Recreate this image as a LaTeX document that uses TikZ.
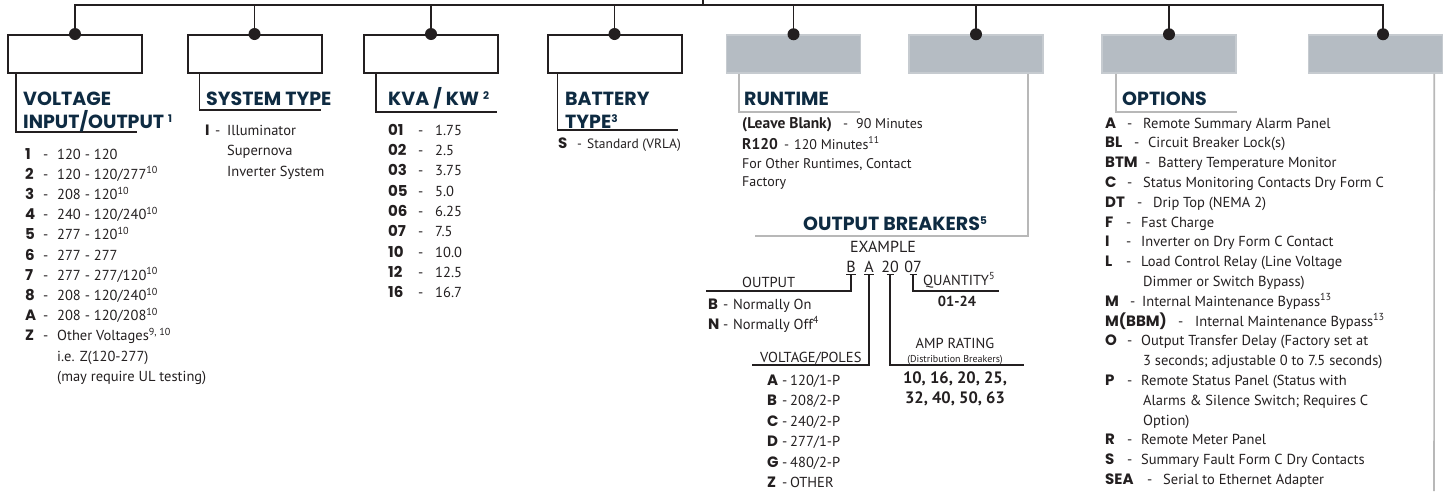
\documentclass[tikz,border=0pt]{standalone}
\usepackage{fontspec}
\setmainfont{PT Sans}
\newfontfamily\poppins{Poppins}
\usepackage{xcolor}

\definecolor{navy}{HTML}{0E2B42}
\definecolor{boxgrey}{HTML}{B5BCC3}
\definecolor{boxedge}{HTML}{C6CBD0}
\definecolor{linegrey}{HTML}{B8B8B8}
\definecolor{ink}{HTML}{231F20}

\newcommand{\headtxt}{\poppins\bfseries\fontsize{19}{22}\selectfont}
\newcommand{\bodytxt}{\fontsize{14.5}{17}\selectfont}
\newcommand{\keytxt}{\poppins\bfseries\fontsize{15}{17}\selectfont}
\newcommand{\optentry}[4]{\makebox[#1][l]{\keytxt #2}\makebox[#3][l]{-}#4}
\newcommand{\headsup}[1]{\raisebox{5.5pt}{\fontsize{10.5}{12}\selectfont #1}}

\begin{document}
\begin{tikzpicture}[x=1pt, y=-1pt,
  codebox/.style={rectangle, draw=ink, line width=2pt, minimum width=134pt, minimum height=38pt, inner sep=0pt},
  greybox/.style={codebox, draw=boxedge, fill=boxgrey, line width=1.5pt},
  bus/.style={draw=ink, line width=1.6pt},
  hook/.style={draw=ink, line width=1.6pt},
  greyhook/.style={draw=linegrey, line width=1.6pt},
  tick/.style={draw=ink, line width=1.3pt},
  heading/.style={anchor=base west, inner sep=0pt, text=navy, font=\headtxt},
  item/.style={anchor=base west, inner sep=0pt, text=ink, font=\bodytxt},
  exletter/.style={anchor=base, inner xsep=0pt, inner ysep=2pt, text=ink, font=\fontsize{16}{18}\selectfont}
]
\useasboundingbox (0,0) rectangle (1445,491);

\node[codebox] (volt) at (75,54) {};
\node[codebox] (sys) at (254.5,54) {};
\node[codebox] (kva) at (431,54) {};
\node[codebox] (batt) at (614.5,54) {};
\node[greybox] (run) at (793.5,54) {};
\node[greybox] (brk) at (976,54) {};
\node[greybox] (opt) at (1169,54) {};
\node[greybox] (last) at (1375.5,54) {};

\coordinate (feed) at (703,0);
\coordinate (bar) at (703,5);
\coordinate (lastdot) at ([xshift=7.5pt]last.north);
\draw[bus] (feed) -- (bar);
\draw[bus] (volt.north) |- (bar) -| (lastdot);
\draw[bus] (sys.north) -- (sys.north |- bar);
\draw[bus] (kva.north) -- (kva.north |- bar);
\draw[bus] (batt.north) -- (batt.north |- bar);
\draw[bus] (run.north) -- (run.north |- bar);
\draw[bus] (brk.north) -- (brk.north |- bar);
\draw[bus] (opt.north) -- (opt.north |- bar);
\fill[ink] (volt.north) circle (6pt);
\fill[ink] (sys.north) circle (6pt);
\fill[ink] (kva.north) circle (6pt);
\fill[ink] (batt.north) circle (6pt);
\fill[ink] (run.north) circle (6pt);
\fill[ink] (brk.north) circle (6pt);
\fill[ink] (opt.north) circle (6pt);
\fill[ink] (lastdot) circle (6pt);

\coordinate (voltend) at (137,132);
\coordinate (sysend) at (321,110);
\coordinate (kvaend) at (497,112);
\coordinate (battend) at (678,130);
\coordinate (runend) at (860,112);
\coordinate (brkend) at (755,236);
\coordinate (optend) at (1237,112);
\coordinate (lastend) at (1434,491);
\draw[hook] ([xshift=9pt]volt.south west) |- (voltend);
\draw[hook] ([xshift=13pt]sys.south west) |- (sysend);
\draw[hook] ([xshift=13pt]kva.south west) |- (kvaend);
\draw[hook] ([xshift=11pt]batt.south west) |- (battend);
\draw[greyhook] ([xshift=13pt]run.south west) |- (runend);
\draw[greyhook] ([xshift=-16pt]brk.south east) |- (brkend);
\draw[greyhook] ([xshift=15pt]opt.south west) |- (optend);
\draw[greyhook] ([xshift=-9pt]last.south east) -- (lastend);

\node[heading] (volthead) at (23,105) {VOLTAGE};
\node[heading] (volthead2) at (23,128) {INPUT/OUTPUT \headsup{1}};
\node[heading] (syshead) at (206,105) {SYSTEM TYPE};
\node[heading] (kvahead) at (388,105) {KVA / KW \headsup{2}};
\node[heading] (batthead) at (565,105) {BATTERY};
\node[heading] (batthead2) at (565,128) {TYPE\headsup{3}};
\node[heading] (runhead) at (744,105) {RUNTIME};
\node[heading] (brkhead) at (803,230) {OUTPUT BREAKERS\headsup{5}};
\node[heading] (opthead) at (1122,105) {OPTIONS};

\node[item] (v1) at (25,159) {\optentry{18pt}{1}{14pt}{120 - 120}};
\node[item] (v2) at (25,179.2) {\optentry{18pt}{2}{14pt}{120 - 120/277\textsuperscript{10}}};
\node[item] (v3) at (25,199.4) {\optentry{18pt}{3}{14pt}{208 - 120\textsuperscript{10}}};
\node[item] (v4) at (25,219.6) {\optentry{18pt}{4}{14pt}{240 - 120/240\textsuperscript{10}}};
\node[item] (v5) at (25,239.8) {\optentry{18pt}{5}{14pt}{277 - 120\textsuperscript{10}}};
\node[item] (v6) at (25,260) {\optentry{18pt}{6}{14pt}{277 - 277}};
\node[item] (v7) at (25,280.2) {\optentry{18pt}{7}{14pt}{277 - 277/120\textsuperscript{10}}};
\node[item] (v8) at (25,300.4) {\optentry{18pt}{8}{14pt}{208 - 120/240\textsuperscript{10}}};
\node[item] (vA) at (25,320.6) {\optentry{18pt}{A}{14pt}{208 - 120/208\textsuperscript{10}}};
\node[item] (vZ) at (25,340.8) {\optentry{18pt}{Z}{14pt}{Other Voltages\textsuperscript{9, 10}}};
\node[item] (vZa) at (57,361) {i.e. Z(120-277)};
\node[item] (vZb) at (57,381.2) {(may require UL testing)};

\node[item] (s1) at (205,135) {\optentry{10pt}{I}{12pt}{Illuminator}};
\node[item] (s2) at (227,155.5) {Supernova};
\node[item] (s3) at (227,176) {Inverter System};

\node[item] (k01) at (388,135) {\optentry{30pt}{01}{17pt}{1.75}};
\node[item] (k02) at (388,155.3) {\optentry{30pt}{02}{17pt}{2.5}};
\node[item] (k03) at (388,175.6) {\optentry{30pt}{03}{17pt}{3.75}};
\node[item] (k05) at (388,196) {\optentry{30pt}{05}{17pt}{5.0}};
\node[item] (k06) at (388,216) {\optentry{30pt}{06}{17pt}{6.25}};
\node[item] (k07) at (388,236.5) {\optentry{30pt}{07}{17pt}{7.5}};
\node[item] (k10) at (388,257) {\optentry{30pt}{10}{17pt}{10.0}};
\node[item] (k12) at (388,277) {\optentry{30pt}{12}{17pt}{12.5}};
\node[item] (k16) at (388,297.5) {\optentry{30pt}{16}{17pt}{16.7}};

\node[item, font=\fontsize{13.5}{16}\selectfont] (b1) at (558,148) {\optentry{19pt}{S}{10pt}{Standard (VRLA)}};

\node[item, font=\fontsize{14}{16}\selectfont] (r1) at (742,128) {\makebox[101pt][l]{\fontsize{15.5}{17}\selectfont\bfseries (Leave Blank)}\makebox[13pt][l]{-}90 Minutes};
\node[item, font=\fontsize{14}{16}\selectfont] (r2) at (742,149) {\makebox[42pt][l]{\fontsize{15.5}{17}\selectfont\bfseries R120}\makebox[10pt][l]{-}120 Minutes\textsuperscript{11}};
\node[item, font=\fontsize{14}{16}\selectfont] (r3) at (742,168) {For Other Runtimes, Contact};
\node[item, font=\fontsize{14}{16}\selectfont] (r4) at (742,186) {Factory};

\node[item, anchor=base, font=\fontsize{16}{18}\selectfont] (exword) at (883,252) {EXAMPLE};
\node[exletter] (exB) at (851,272) {B};
\node[exletter] (exA) at (869,272) {A};
\node[exletter] (ex20) at (890,272) {20};
\node[exletter] (ex07) at (913,272) {07};
\coordinate (outend) at (706,291);
\coordinate (polesend) at (752,365);
\coordinate (ampend) at (1024,365);
\coordinate (qtyend) at (999,291);
\draw[tick] ([xshift=-5pt]exB.south) -- ([xshift=5pt]exB.south);
\draw[tick] ([xshift=-5pt]exA.south) -- ([xshift=5pt]exA.south);
\draw[tick] ([xshift=-3.5pt]ex20.south) -- ([xshift=3.5pt]ex20.south);
\draw[tick] ([xshift=-3.5pt]ex07.south) -- ([xshift=3.5pt]ex07.south);
\draw[tick] (exB.south) |- (outend);
\draw[tick] (exA.south) |- (polesend);
\draw[tick] (ex20.south) |- (ampend);
\draw[tick] (ex07.south) |- (qtyend);

\node[item] (outlbl) at (742,287) {OUTPUT};
\node[item] (onB) at (708,309) {\optentry{15pt}{B}{10pt}{Normally On}};
\node[item] (onN) at (708,329) {\optentry{15pt}{N}{10pt}{Normally Off\textsuperscript{4}}};
\node[item] (qtylbl) at (923,285) {QUANTITY\textsuperscript{5}};
\node[item, anchor=base, font=\bodytxt\bfseries] (qtyval) at (957,306) {01-24};
\node[item, anchor=base] (amplbl) at (955,348) {AMP RATING};
\node[item, anchor=base, font=\fontsize{10}{12}\selectfont] (distlbl) at (955,362) {(Distribution Breakers)};
\node[item, anchor=base, font=\fontsize{16.5}{18}\selectfont\bfseries] (amp1) at (955,383) {10, 16, 20, 25,};
\node[item, anchor=base, font=\fontsize{16.5}{18}\selectfont\bfseries] (amp2) at (955,403) {32, 40, 50, 63};
\node[item] (poleslbl) at (760,362) {VOLTAGE/POLES};

\node[item] (pA) at (767,385) {\optentry{15pt}{A}{8pt}{120/1-P}};
\node[item] (pB) at (767,405.5) {\optentry{15pt}{B}{8pt}{208/2-P}};
\node[item] (pC) at (767,426) {\optentry{15pt}{C}{8pt}{240/2-P}};
\node[item] (pD) at (767,446.5) {\optentry{15pt}{D}{8pt}{277/1-P}};
\node[item] (pG) at (767,467) {\optentry{15pt}{G}{8pt}{480/2-P}};
\node[item] (pZ) at (767,487) {\optentry{15pt}{Z}{8pt}{OTHER}};

\node[item] (oA) at (1105,128) {\optentry{22pt}{A}{16pt}{Remote Summary Alarm Panel}};
\node[item] (oBL) at (1105,147.8) {\optentry{29pt}{BL}{14pt}{Circuit Breaker Lock(s)}};
\node[item] (oBTM) at (1105,167.6) {\optentry{40pt}{BTM}{13pt}{Battery Temperature Monitor}};
\node[item] (oC) at (1105,187.4) {\optentry{22pt}{C}{16pt}{Status Monitoring Contacts Dry Form C}};
\node[item] (oDT) at (1105,207.2) {\optentry{32pt}{DT}{16pt}{Drip Top (NEMA 2)}};
\node[item] (oF) at (1105,227) {\optentry{21pt}{F}{15pt}{Fast Charge}};
\node[item] (oI) at (1105,246.8) {\optentry{21pt}{I}{15pt}{Inverter on Dry Form C Contact}};
\node[item] (oL) at (1105,266.6) {\optentry{21pt}{L}{15pt}{Load Control Relay (Line Voltage}};
\node[item] (oLb) at (1143,286.4) {Dimmer or Switch Bypass)};
\node[item] (oM) at (1105,306.2) {\optentry{25pt}{M}{12pt}{Internal Maintenance Bypass\textsuperscript{13}}};
\node[item] (oMB) at (1105,326) {\optentry{73pt}{M(BBM)}{17pt}{Internal Maintenance Bypass\textsuperscript{13}}};
\node[item] (oO) at (1105,345.8) {\optentry{22pt}{O}{14pt}{Output Transfer Delay (Factory set at}};
\node[item] (oOb) at (1143,365.6) {3 seconds; adjustable 0 to 7.5 seconds)};
\node[item] (oP) at (1105,385.4) {\optentry{22pt}{P}{14pt}{Remote Status Panel (Status with}};
\node[item] (oPb) at (1143,405.2) {Alarms \& Silence Switch; Requires C};
\node[item] (oPc) at (1143,425) {Option)};
\node[item] (oR) at (1105,444.8) {\optentry{22pt}{R}{14pt}{Remote Meter Panel}};
\node[item] (oS) at (1105,464.6) {\optentry{22pt}{S}{14pt}{Summary Fault Form C Dry Contacts}};
\node[item] (oSEA) at (1105,484.4) {\optentry{42pt}{SEA}{16pt}{Serial to Ethernet Adapter}};
\end{tikzpicture}
\end{document}
